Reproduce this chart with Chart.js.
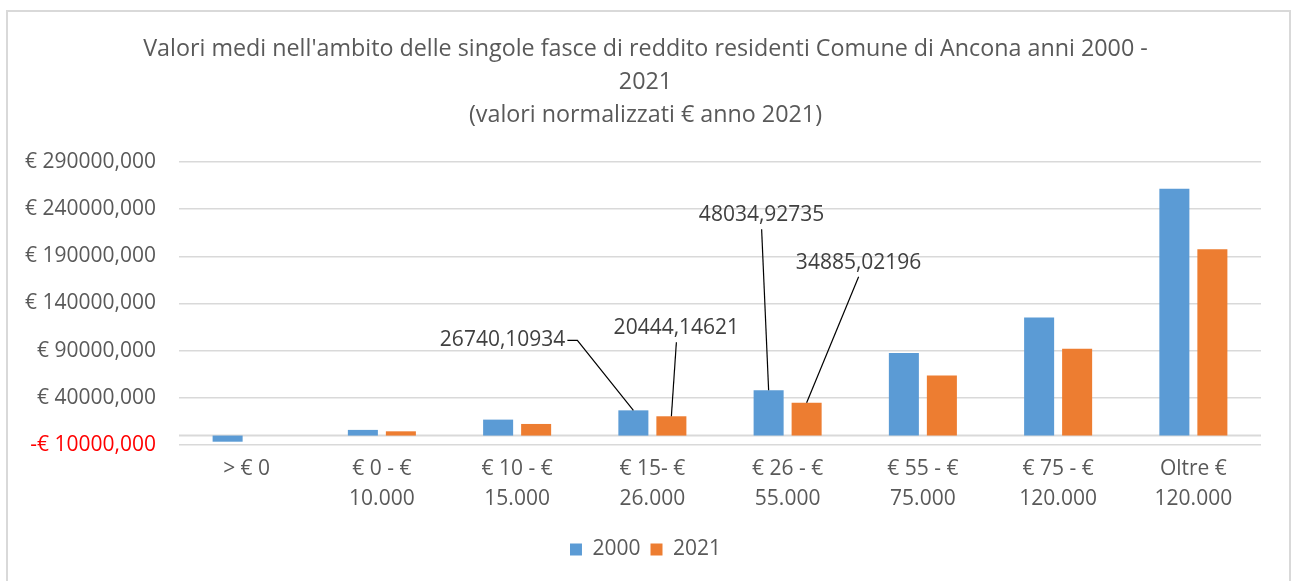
<!DOCTYPE html>
<html>
<head>
<meta charset="utf-8">
<script src="https://cdn.jsdelivr.net/npm/chart.js@4.4.0/dist/chart.umd.min.js"></script>
<style>
  html, body { margin: 0; padding: 0; background: #fff; }
  #wrap { position: relative; width: 1291px; height: 581px; overflow: hidden; }
  #frame { position: absolute; left: 6px; top: 10px; width: 1281px; height: 600px; border: 2px solid #d9d9d9; }
  #chart { position: absolute; left: 0; top: 0; }
</style>
</head>
<body>
<div id="wrap">
  <div id="frame"></div>
  <canvas id="chart" width="1291" height="581"></canvas>
</div>
<script>
// Income brackets (x axis)
const categories = [
  ['> € 0'],
  ['€ 0 - €', '10.000'],
  ['€ 10 - €', '15.000'],
  ['€ 15- €', '26.000'],
  ['€ 26 - €', '55.000'],
  ['€ 55 - €', '75.000'],
  ['€ 75 - €', '120.000'],
  ['Oltre €', '120.000']
];

// Mean values per bracket (normalised € 2021)
const values2000 = [-6500, 6000, 16900, 26740.10934, 48034.92735, 87400, 125100, 261600];
const values2021 = [0, 4500, 12300, 20444.14621, 34885.02196, 63700, 92100, 197500];

// Y axis range
const yMin = -10000;
const yMax = 290000;
const yStep = 50000;

const fontFamily = "'Open Sans', sans-serif";
const textGrey = '#595959';

// Which bars get a value label with a leader line, and where the label sits
const callouts = [
  { dataset: 0, index: 3, dx: -68, dy: -70, align: 'right' },
  { dataset: 1, index: 3, dx: 5, dy: -88, align: 'center' },
  { dataset: 0, index: 4, dx: -7, dy: -175, align: 'center' },
  { dataset: 1, index: 4, dx: 52, dy: -140, align: 'center' }
];

function euro(v) {
  return (v < 0 ? '-€ ' : '€ ') + Math.abs(v) + ',000';
}

// Title and legend are centred on the whole frame, not on the space left of the padding
const centreBlocks = {
  id: 'centreBlocks',
  afterLayout(chart) {
    chart.titleBlock.left += 30;
    chart.legend.left += 30;
  }
};

// Draws the zero line across the plot
const zeroLine = {
  id: 'zeroLine',
  beforeDatasetsDraw(chart) {
    const { ctx, chartArea, scales } = chart;
    const y = scales.y.getPixelForValue(0);
    ctx.save();
    ctx.strokeStyle = '#d9d9d9';
    ctx.lineWidth = 2;
    ctx.beginPath();
    ctx.moveTo(chartArea.left, y);
    ctx.lineTo(chartArea.right, y);
    ctx.stroke();
    ctx.restore();
  }
};

// Value labels with leader lines
const calloutLabels = {
  id: 'calloutLabels',
  afterDatasetsDraw(chart) {
    const { ctx } = chart;
    ctx.save();
    ctx.font = "21px " + fontFamily;
    ctx.textBaseline = 'middle';
    callouts.forEach(c => {
      const bar = chart.getDatasetMeta(c.dataset).data[c.index];
      const value = chart.data.datasets[c.dataset].data[c.index];
      const text = value.toFixed(5).replace('.', ',');
      const lx = bar.x + c.dx;
      const ly = bar.y + c.dy;

      ctx.strokeStyle = '#000';
      ctx.lineWidth = 1.2;
      ctx.beginPath();
      if (c.align === 'right') {
        ctx.moveTo(lx + 2, ly);
        ctx.lineTo(lx + 12, ly);
      } else {
        ctx.moveTo(lx, ly + 14);
      }
      ctx.lineTo(bar.x, bar.y);
      ctx.stroke();

      ctx.fillStyle = '#404040';
      ctx.textAlign = c.align;
      ctx.fillText(text, lx, ly);
    });
    ctx.restore();
  }
};

new Chart(document.getElementById('chart'), {
  type: 'bar',
  data: {
    labels: categories,
    datasets: [
      { label: '2000', data: values2000, backgroundColor: '#5B9BD5', categoryPercentage: 0.562, barPercentage: 0.79 },
      { label: '2021', data: values2021, backgroundColor: '#ED7D31', categoryPercentage: 0.562, barPercentage: 0.79 }
    ]
  },
  options: {
    responsive: false,
    animation: false,
    layout: { padding: { left: 0, right: 30, top: 0, bottom: 11 } },
    plugins: {
      title: {
        display: true,
        text: [
          "Valori medi nell'ambito delle singole fasce di reddito residenti Comune di Ancona anni 2000 -",
          '2021',
          '(valori normalizzati € anno 2021)'
        ],
        color: textGrey,
        font: { family: fontFamily, size: 23.3, weight: 'normal', lineHeight: 1.416 },
        padding: { top: 33, bottom: 30 }
      },
      legend: {
        position: 'bottom',
        labels: {
          color: textGrey,
          font: { family: fontFamily, size: 21 },
          boxWidth: 12,
          boxHeight: 12,
          padding: 10
        }
      },
      tooltip: { enabled: false }
    },
    scales: {
      x: {
        grid: { display: false },
        border: { display: false },
        ticks: {
          color: textGrey,
          font: { family: fontFamily, size: 21, lineHeight: 1.43 },
          padding: 1,
          maxRotation: 0,
          autoSkip: false
        },
        afterFit(scale) { scale.height = 84; }
      },
      y: {
        min: yMin,
        max: yMax,
        grid: { color: '#d9d9d9', lineWidth: 1.5, drawTicks: false },
        border: { display: false },
        ticks: {
          stepSize: yStep,
          padding: 23,
          color: ctx => ctx.tick.value < 0 ? '#FF0000' : textGrey,
          font: { family: fontFamily, size: 21 },
          callback: v => euro(v)
        },
        afterFit(scale) { scale.width = 179; }
      }
    }
  },
  plugins: [centreBlocks, zeroLine, calloutLabels]
});
</script>
</body>
</html>
